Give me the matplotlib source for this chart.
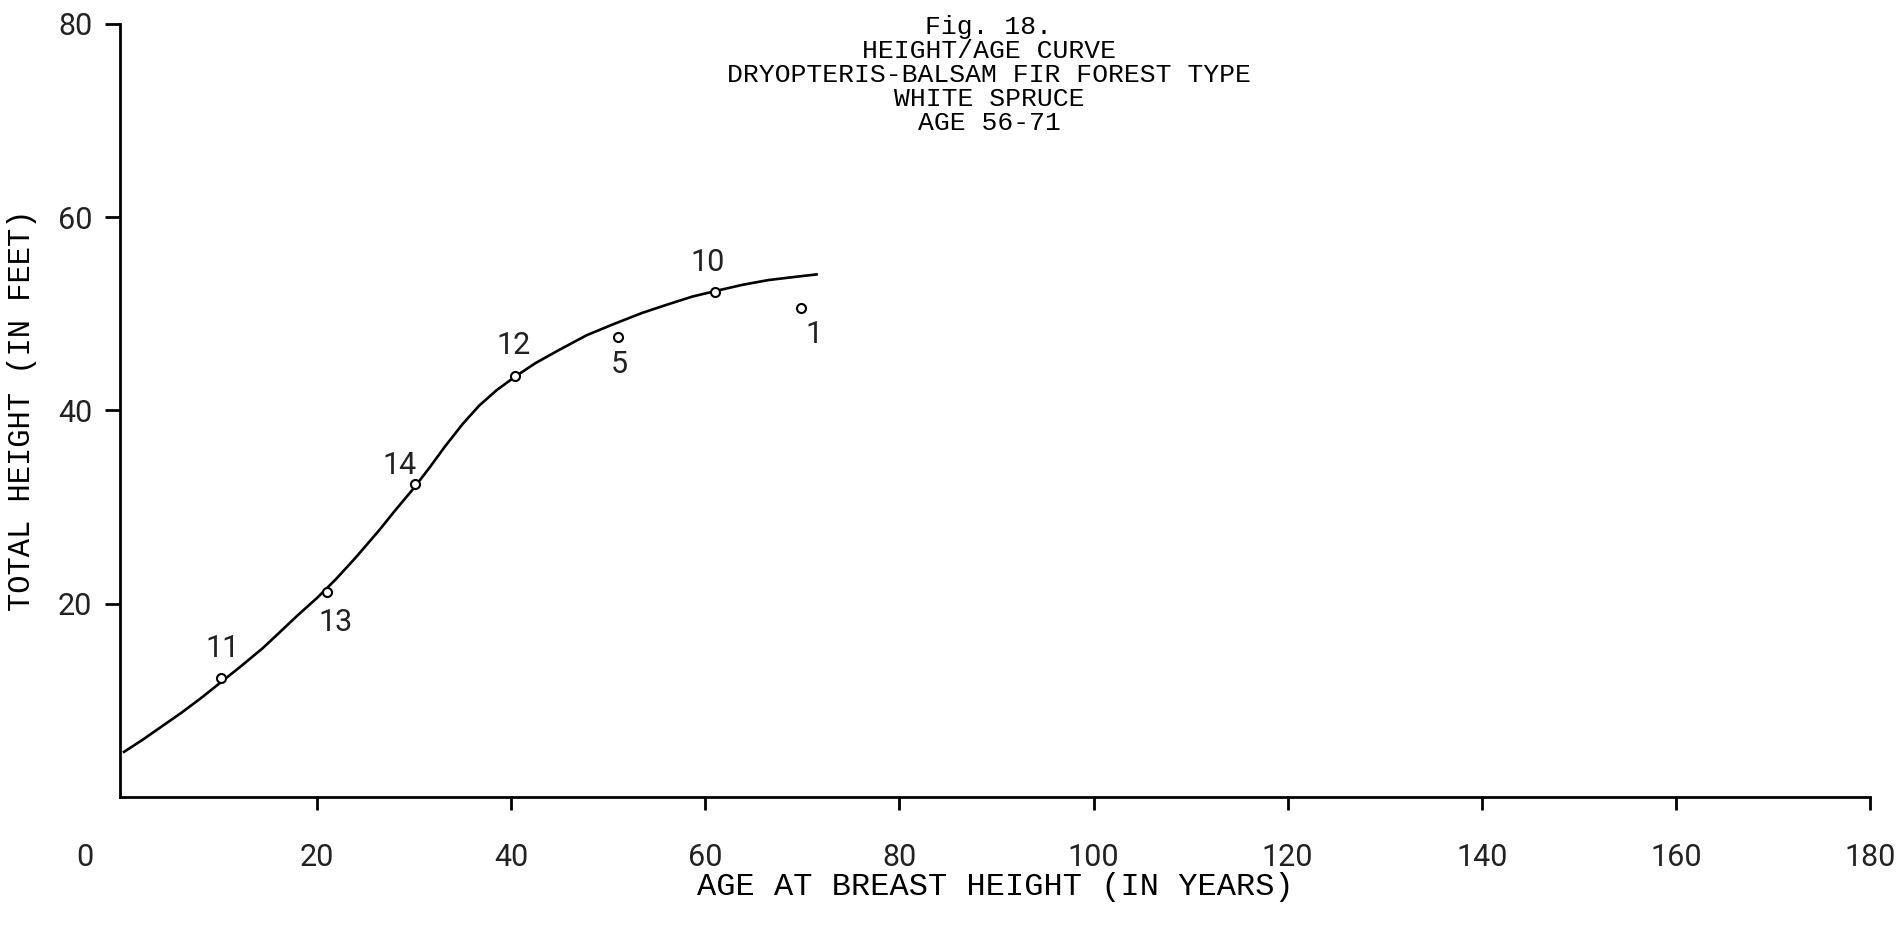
import numpy as np
import matplotlib
matplotlib.use('Agg')
import matplotlib.pyplot as plt
from matplotlib.transforms import ScaledTranslation

# data
plot_nums = ['11', '13', '14', '12', '5', '10', '1']
age = [10.1, 21.0, 30.1, 40.4, 51.0, 61.0, 69.9]
height = [12.3, 21.2, 32.4, 43.6, 47.6, 52.3, 50.6]

# hand fitted curve
curve_age = [0, 2, 4, 6, 8, 10, 12, 14.4, 16, 18, 20, 22, 24, 26.4, 28, 30, 31.6, 33.2,
             35, 36.7, 38.5, 40.4, 42.5, 45, 47.8, 50.7, 53.5, 56.2, 58.7, 61.2, 63.8,
             66.5, 69, 71.6]
curve_height = [4.6, 5.9, 7.3, 8.7, 10.2, 11.8, 13.4, 15.4, 16.9, 18.8, 20.6, 22.6, 24.8,
                27.6, 29.6, 32.0, 34.1, 36.3, 38.6, 40.5, 42.1, 43.5, 44.9, 46.3, 47.8,
                49.0, 50.1, 51.0, 51.8, 52.4, 53.0, 53.5, 53.8, 54.1]

x_ticks = [0, 20, 40, 60, 80, 100, 120, 140, 160, 180]
y_ticks = [20, 40, 60, 80]

title_lines = ['Fig. 18.', 'HEIGHT/AGE CURVE', 'DRYOPTERIS-BALSAM FIR FOREST TYPE',
               'WHITE SPRUCE', 'AGE 56-71']
x_title = 'AGE AT BREAST HEIGHT (IN YEARS)'
y_title = 'TOTAL HEIGHT (IN FEET)'

# label offsets (points) for the plot numbers
label_offsets = [(1, 21), (6, -22), (-11, 13), (-1, 22), (1, -20), (-5, 21), (9, -19)]

#Code starts here
type_font = 'Liberation Mono'
num_font = 'Roboto'

fig = plt.figure(figsize=(18.98, 9.36), dpi=100)
W, H = 1898.0, 936.0
ax = fig.add_axes([120 / W, (H - 797) / H, 1750 / W, 773 / H])

ax.plot(curve_age, curve_height, color='black', lw=1.9, solid_capstyle='butt')
ax.plot(age, height, 'o', ms=6.5, mfc='white', mec='black', mew=1.5)

for n, x, y, off in zip(plot_nums, age, height, label_offsets):
    ax.annotate(n, (x, y), xytext=off, textcoords='offset points', ha='center', va='center',
                fontsize=22, family=num_font, color='#222222')

ax.set_xlim(-0.3, 180)
ax.set_ylim(0, 80)
ax.spines['top'].set_visible(False)
ax.spines['right'].set_visible(False)
ax.spines['left'].set_linewidth(2)
ax.spines['bottom'].set_linewidth(2)

ax.set_xticks(x_ticks)
ax.set_xticklabels([str(t) for t in x_ticks])
ax.set_yticks(y_ticks)
ax.set_yticklabels([str(t) for t in y_ticks])
ax.tick_params(axis='x', direction='out', length=9, width=2, pad=24)
ax.tick_params(axis='y', direction='out', length=11, width=2, pad=9)
for lab in ax.get_xticklabels() + ax.get_yticklabels():
    lab.set_family(num_font)
    lab.set_fontsize(22)
    lab.set_color('#222222')

# end ticks cross the axis
ax.set_yticks([80], minor=True)
ax.set_xticks([180], minor=True)
ax.tick_params(which='minor', direction='in', length=13, width=2)
ax.xaxis.get_major_ticks()[0].tick1line.set_visible(False)

# the 0 sits left of the corner
zero = ax.get_xticklabels()[0]
zero.set_transform(zero.get_transform() + ScaledTranslation(-0.38, 0, fig.dpi_scale_trans))

ax.set_xlabel(x_title, family=type_font, fontsize=23, va='center')
ax.xaxis.set_label_coords(0.5, -90 / 773)
ax.set_ylabel(y_title, family=type_font, fontsize=22, va='center', ha='center', rotation_mode='anchor')
ax.yaxis.set_label_coords(-98 / 1750, 0.5)

title_y = [27, 51, 75, 99, 123]
for line, yy in zip(title_lines, title_y):
    fig.text(989 / W, 1 - yy / H, line, ha='center', va='center', family=type_font, fontsize=19)

fig.savefig('out.png', dpi=100, facecolor='white')
